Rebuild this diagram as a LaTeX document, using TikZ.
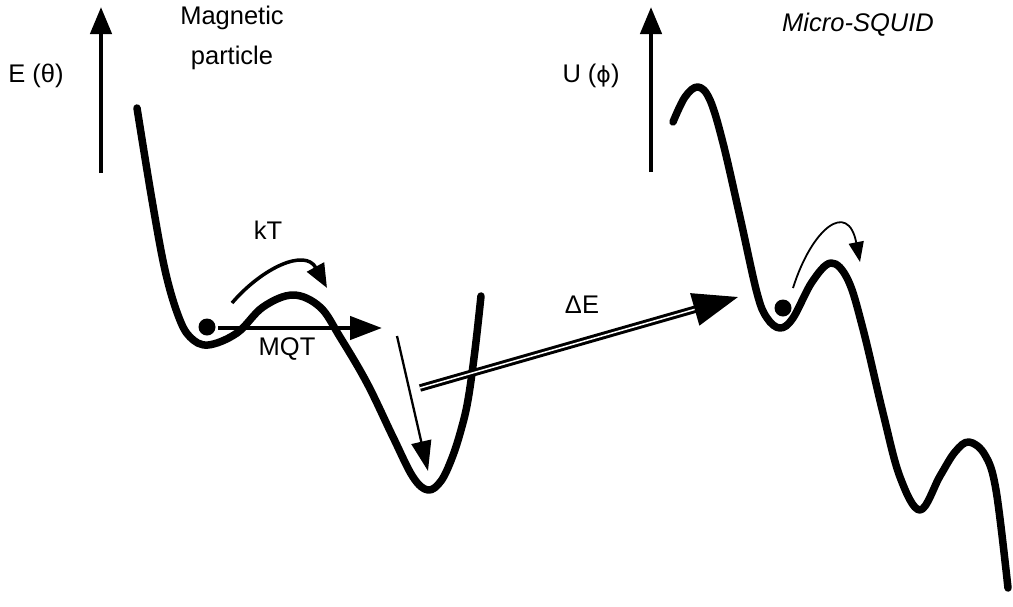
\documentclass[tikz,border=0pt]{standalone}
\usepackage{fontspec}
\setmainfont{Liberation Sans}
\newfontfamily\greekfont{DejaVu Sans}
\usetikzlibrary{arrows.meta}

\tikzset{
  lbl/.style={inner sep=0pt, align=center, font=\fontsize{25.5}{40}\selectfont},
  well/.style={line width=7.5pt, line cap=round, line join=round},
  axis/.style={line width=4.5pt, -{Triangle[length=27pt,width=21pt]}},
}

\begin{document}
\begin{tikzpicture}[x=1pt, y=-1pt]
  \useasboundingbox (0,0) rectangle (1013,606);
  % Axes
  \coordinate (axE-bot) at (101,173);
  \coordinate (axE-top) at (101,7);
  \coordinate (axU-bot) at (651,172);
  \coordinate (axU-top) at (651,7);
  \draw[axis] (axE-bot) -- (axE-top);
  \draw[axis] (axU-bot) -- (axU-top);
  \node[lbl] (lblE) at (36,76) {E (θ)};
  \node[lbl] (lblU) at (591,76) {U ({\greekfont\fontsize{22}{30}\selectfont ϕ})};
  \node[lbl] (lblMag) at (232,38) {Magnetic\\particle};
  \node[lbl, font=\fontsize{25.5}{40}\selectfont\itshape] (lblSQ) at (858,25) {Micro-SQUID};
  % Potentiel de la particule
  \draw[well] plot[smooth, tension=0.6] coordinates {
    (137,108) (152,200) (165,270) (178,315) (190,337) (208,345) (237,333)
    (263,307) (293,295) (320,307) (340,337) (367,383) (393,437) (413,477)
    (428,490) (441,481) (452,458) (461,430) (468,400) (475,350) (481,296)};
  % Potentiel du micro-SQUID
  \draw[well] plot[smooth, tension=0.6] coordinates {
    (673,122) (685,97) (698,87) (710,100) (723,143) (740,217) (757,293)
    (767,318) (780,328) (793,318) (812,282) (831,263) (848,280) (863,329)
    (883,413) (900,477) (920,510) (940,476) (955,452) (969,442) (985,455)
    (996,490) (1008,588)};
  % Particules
  \fill (207,327) circle (8.5pt) coordinate (ballL);
  \fill (783,308) circle (8.5pt) coordinate (ballR);
  % Fleches
  \coordinate (mqt-end) at (382,328);
  \draw[line width=4.5pt, -{Triangle[length=32pt,width=23pt]}] (ballL) ++(11,1) -- (mqt-end);
  \node[lbl] (lblMQT) at (287,349) {MQT};
  \coordinate (kT-start) at (232,303);
  \coordinate (kT-end) at (327,288);
  \draw[line width=3.5pt, -{Triangle[length=24pt,width=19pt]}]
    (kT-start) .. controls (262,268) and (305,248) .. (kT-end);
  \node[lbl] (lblkT) at (268,230) {kT};
  \coordinate (drop-start) at (397,336);
  \coordinate (drop-end) at (428,471);
  \draw[line width=2.3pt, -{Triangle[length=30pt,width=20pt]}] (drop-start) -- (drop-end);
  \coordinate (dE-start) at (420,388);
  \coordinate (dE-end) at (738,297);
  \draw[line width=3pt, double, double distance=1.5pt, -{Triangle[length=45pt,width=33pt]}]
    (dE-start) -- (dE-end);
  \node[lbl] (lbldE) at (582,305) {ΔE};
  \coordinate (sq-start) at (793,288);
  \coordinate (sq-end) at (860,262);
  \draw[line width=1.8pt, -{Triangle[length=20pt,width=15pt]}]
    (sq-start) .. controls (812,228) and (848,200) .. (sq-end);
\end{tikzpicture}
\end{document}
